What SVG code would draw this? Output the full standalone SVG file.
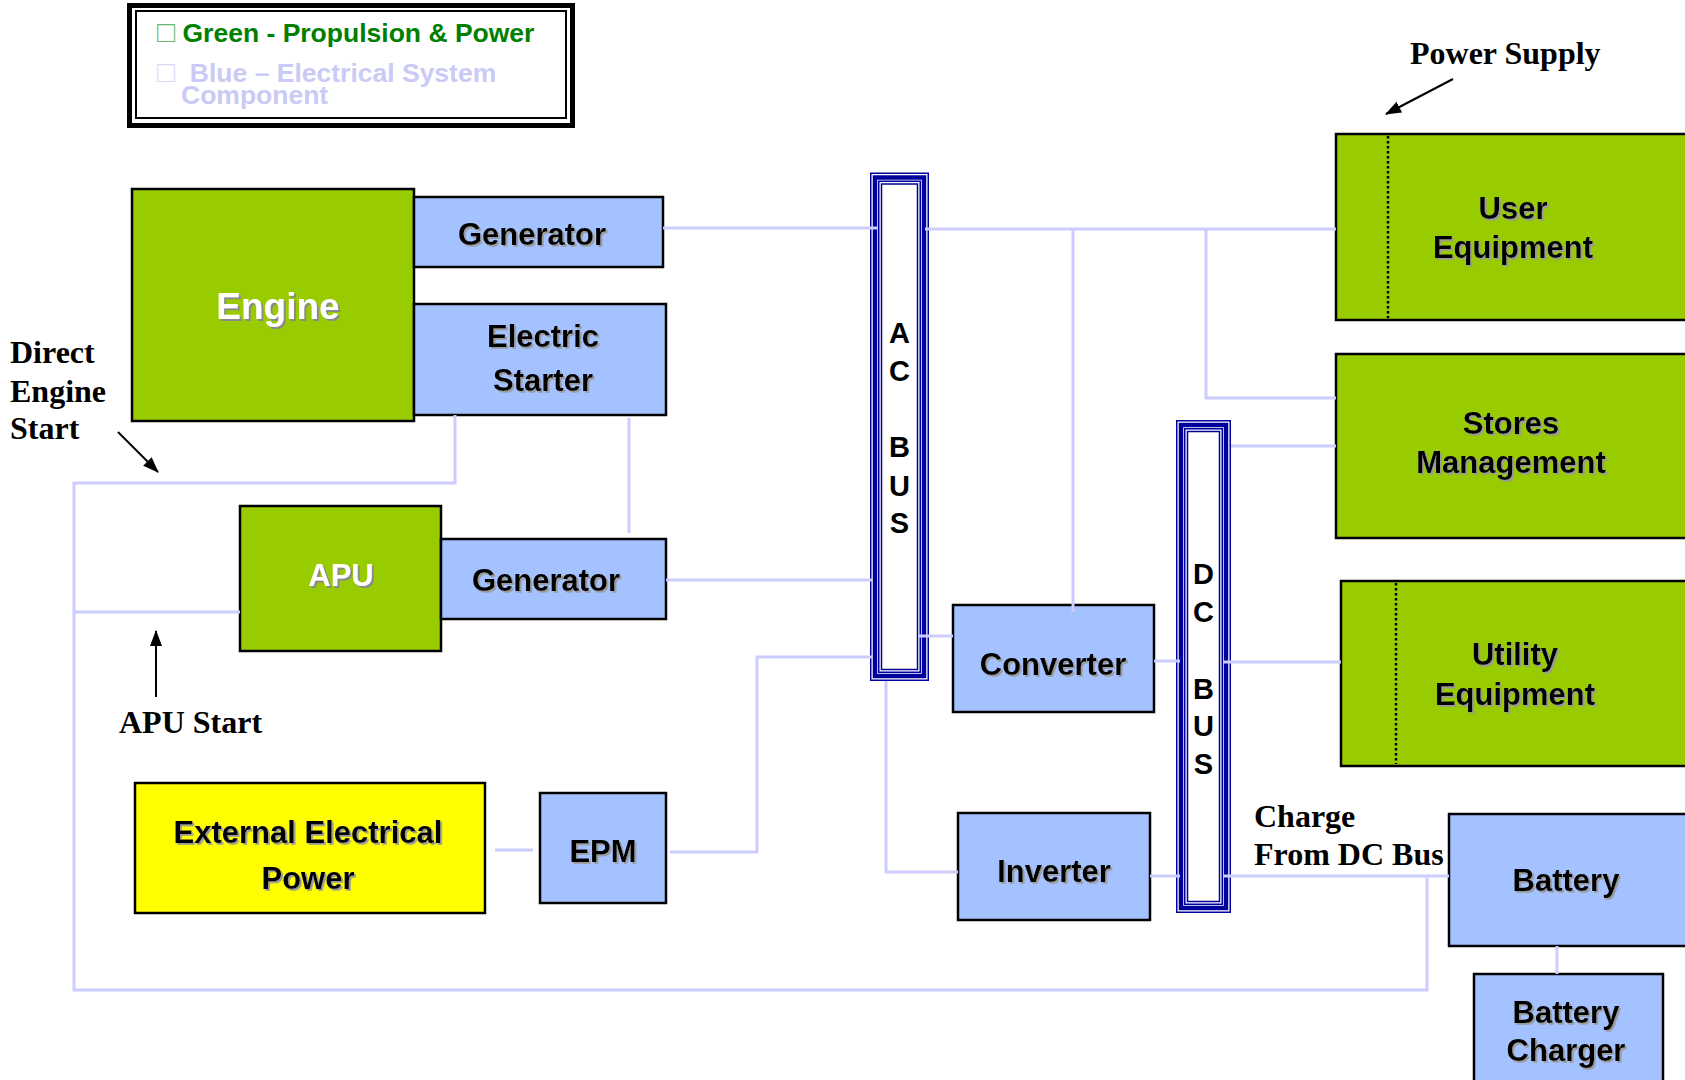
<svg xmlns="http://www.w3.org/2000/svg" width="1685" height="1080" viewBox="0 0 1685 1080">
<style>
.box{stroke:#000;stroke-width:2.5}
.g{fill:#99CC00}
.b{fill:#A4C2FF}
.y{fill:#FFFF00}
.t{font-family:"Liberation Sans",Arial,sans-serif;font-weight:bold;font-size:31px;text-anchor:middle;fill:#000;filter:url(#sh)}
.tw{fill:#fff;filter:url(#shw)}
.big{font-size:37px}
.s{font-family:"Liberation Serif","Times New Roman",serif;font-weight:bold;font-size:32px;fill:#000}
.bus{fill:#fff;stroke:#00009C}
.bl{font-family:"Liberation Sans",Arial,sans-serif;font-weight:bold;font-size:29px;text-anchor:middle;fill:#000}
.c{fill:none;stroke:#CCCCFF;stroke-width:3}
.ar{fill:none;stroke:#000;stroke-width:2}
.dot{stroke:#000;stroke-width:2.5;stroke-dasharray:2.5 2.5}
.lg{font-family:"Liberation Sans",Arial,sans-serif;font-weight:bold;font-size:26.5px}
</style>
<defs>
<filter id="sh" x="-10%" y="-30%" width="130%" height="160%"><feDropShadow dx="1.8" dy="1.8" stdDeviation="0.3" flood-color="#9a9a9a"/></filter>
<filter id="shw" x="-10%" y="-30%" width="130%" height="160%"><feDropShadow dx="2" dy="2" stdDeviation="0.3" flood-color="#8a8a8a"/></filter>
<marker id="ah" viewBox="0 0 16 12" refX="15" refY="6" markerWidth="16" markerHeight="12" markerUnits="userSpaceOnUse" orient="auto"><path d="M0,0 L16,6 L0,12 Z" fill="#000"/></marker>
</defs>
<rect width="1685" height="1080" fill="#fff"/>

<g id="legend">
<rect x="129.5" y="5.5" width="443" height="120" fill="#fff" stroke="#000" stroke-width="5"/>
<rect x="136" y="11" width="430" height="107" fill="none" stroke="#000" stroke-width="2"/>
<text class="lg" x="157" y="42" fill="#007F00"><tspan font-weight="normal" font-size="30" fill="#6DB86D">□</tspan> Green - Propulsion &amp; Power</text>
<text class="lg" x="157" y="82" fill="#CACAF6"><tspan font-weight="normal" font-size="30" fill="#DADAF8">□</tspan>&#160; Blue – Electrical System</text>
<text class="lg" x="181" y="104" fill="#CACAF6">Component</text>
</g>

<g id="engine"><rect class="box g" x="132" y="189" width="282" height="232"/><text class="t tw big" x="278" y="319">Engine</text></g>
<g id="generator1"><rect class="box b" x="414" y="197" width="249" height="70"/><text class="t" x="532" y="245">Generator</text></g>
<g id="starter"><rect class="box b" x="414" y="304" width="252" height="111"/><text class="t" x="543" y="347">Electric</text><text class="t" x="543" y="391">Starter</text></g>
<g id="apu"><rect class="box g" x="240" y="506" width="201" height="145"/><text class="t tw" x="341" y="586">APU</text></g>
<g id="generator2"><rect class="box b" x="441" y="539" width="225" height="80"/><text class="t" x="546" y="591">Generator</text></g>
<g id="external"><rect class="box y" x="135" y="783" width="350" height="130"/><text class="t" x="308" y="843">External Electrical</text><text class="t" x="308" y="889">Power</text></g>
<g id="epm"><rect class="box b" x="540" y="793" width="126" height="110"/><text class="t" x="603" y="862">EPM</text></g>

<g id="acbus">
<rect class="bus" x="870.75" y="173.25" width="57.5" height="507" stroke-width="1.5"/>
<rect x="875" y="177.5" width="49" height="498.5" fill="none" stroke="#00009C" stroke-width="4.5"/>
<rect x="878.75" y="181.25" width="41.5" height="491" fill="none" stroke="#00009C" stroke-width="1.5"/>
<rect x="881.5" y="184" width="36" height="485.5" fill="none" stroke="#00009C" stroke-width="1.5"/>
<text class="bl" x="899.5" y="343">A</text><text class="bl" x="899.5" y="381">C</text>
<text class="bl" x="899.5" y="457">B</text><text class="bl" x="899.5" y="496">U</text><text class="bl" x="899.5" y="533">S</text>
</g>

<g id="dcbus">
<rect class="bus" x="1176.75" y="420.75" width="53.5" height="491.5" stroke-width="1.5"/>
<rect x="1181" y="425" width="45" height="483" fill="none" stroke="#00009C" stroke-width="4.5"/>
<rect x="1184.75" y="428.75" width="37.5" height="475.5" fill="none" stroke="#00009C" stroke-width="1.5"/>
<rect x="1187.5" y="431.5" width="32" height="470" fill="none" stroke="#00009C" stroke-width="1.5"/>
<text class="bl" x="1203.5" y="584">D</text><text class="bl" x="1203.5" y="622">C</text>
<text class="bl" x="1203.5" y="699">B</text><text class="bl" x="1203.5" y="736">U</text><text class="bl" x="1203.5" y="774">S</text>
</g>

<g id="converter"><rect class="box b" x="953" y="605" width="201" height="107"/><text class="t" x="1053" y="675">Converter</text></g>
<g id="inverter"><rect class="box b" x="958" y="813" width="192" height="107"/><text class="t" x="1054" y="882">Inverter</text></g>

<g id="user"><rect class="box g" x="1336" y="134" width="370" height="186"/><line class="dot" x1="1388" y1="136" x2="1388" y2="318"/><text class="t" x="1513" y="219">User</text><text class="t" x="1513" y="258">Equipment</text></g>
<g id="stores"><rect class="box g" x="1336" y="354" width="370" height="184"/><text class="t" x="1511" y="434">Stores</text><text class="t" x="1511" y="473">Management</text></g>
<g id="utility"><rect class="box g" x="1341" y="581" width="370" height="185"/><line class="dot" x1="1396" y1="583" x2="1396" y2="764"/><text class="t" x="1515" y="665">Utility</text><text class="t" x="1515" y="705">Equipment</text></g>
<g id="battery"><rect class="box b" x="1449" y="814" width="260" height="132"/><text class="t" x="1566" y="891">Battery</text></g>
<g id="charger"><rect class="box b" x="1474" y="974" width="189" height="120"/><text class="t" x="1566" y="1023">Battery</text><text class="t" x="1566" y="1061">Charger</text></g>

<g id="connectors">
<path class="c" d="M663,228 H878"/>
<path class="c" d="M925,229 H1336"/>
<path class="c" d="M1073,229 V612"/>
<path class="c" d="M1206,229 V398 H1336"/>
<path class="c" d="M1231,446 H1336"/>
<path class="c" d="M666,580 H872"/>
<path class="c" d="M918,636 H953"/>
<path class="c" d="M670,852 H757 V657 H872"/>
<path class="c" d="M495,850 H533"/>
<path class="c" d="M886,681 V872 H958"/>
<path class="c" d="M1154,661 H1180"/>
<path class="c" d="M1223,662 H1341"/>
<path class="c" d="M1150,876 H1180"/>
<path class="c" d="M1223,876 H1449"/>
<path class="c" d="M1427,878 V990 H74 V483 H455 V415"/>
<path class="c" d="M74,612 H240"/>
<path class="c" d="M629,418 V533"/>
<path class="c" d="M1557,946 V974"/>
<line class="ar" x1="1453" y1="79" x2="1386" y2="114" marker-end="url(#ah)"/>
<line class="ar" x1="118" y1="432" x2="158" y2="472" marker-end="url(#ah)"/>
<line class="ar" x1="156" y1="697" x2="156" y2="631" marker-end="url(#ah)"/>
</g>

<g id="labels">
<text class="s" x="1410" y="64">Power Supply</text>
<text class="s" x="10" y="363">Direct</text>
<text class="s" x="10" y="402">Engine</text>
<text class="s" x="10" y="439">Start</text>
<text class="s" x="119" y="733">APU Start</text>
<text class="s" x="1254" y="827">Charge</text>
<text class="s" x="1254" y="865">From DC Bus</text>
</g>
</svg>
